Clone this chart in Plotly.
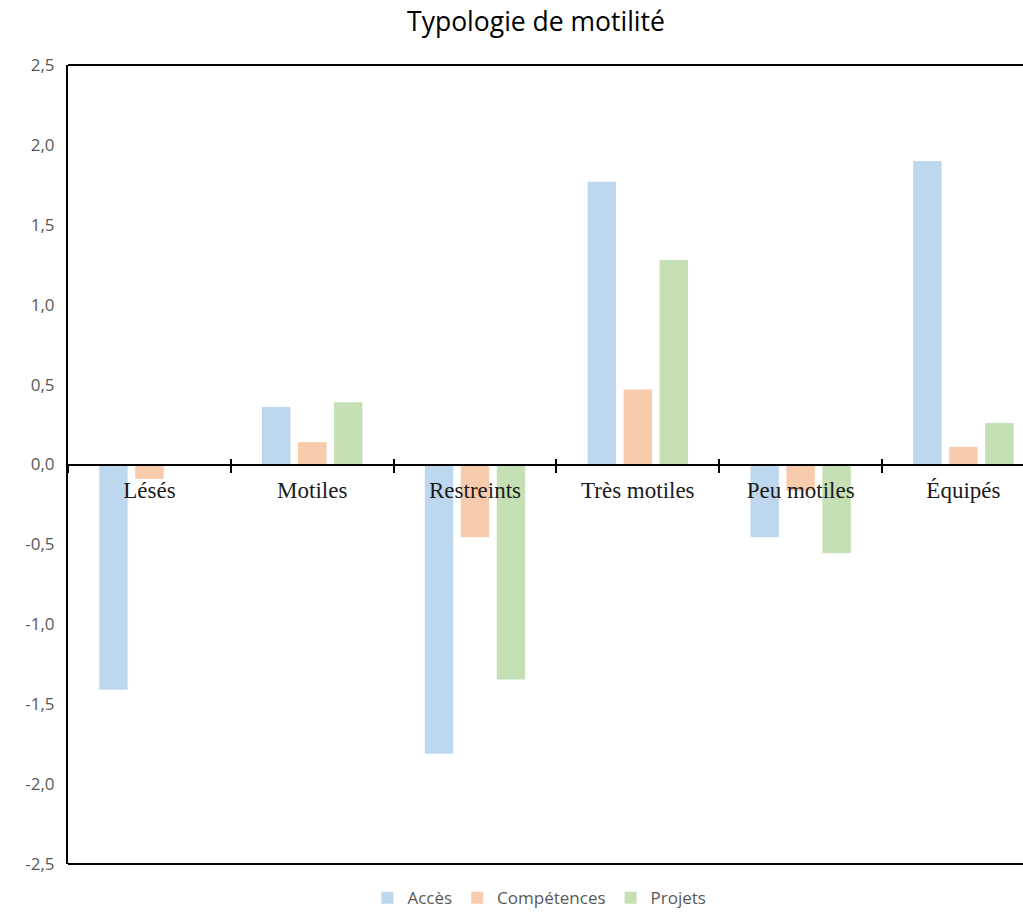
import plotly.graph_objects as go

categories = ["Lésés", "Motiles", "Restreints", "Très motiles", "Peu motiles", "Équipés"]
acces = [-1.41, 0.36, -1.81, 1.77, -0.455, 1.90]
competences = [-0.09, 0.14, -0.455, 0.47, -0.165, 0.11]
projets = [0.0, 0.39, -1.345, 1.28, -0.555, 0.26]
series_names = ["Accès", "Compétences", "Projets"]
colors = ["#BDD7EE", "#F8CBAD", "#C5E0B4"]
y_ticks = [-2.5, -2.0, -1.5, -1.0, -0.5, 0.0, 0.5, 1.0, 1.5, 2.0, 2.5]
y_tick_labels = [f"{v:.1f}".replace(".", ",") for v in y_ticks]

fig = go.Figure()
for name, vals, col in zip(series_names, [acces, competences, projets], colors):
    fig.add_trace(go.Bar(x=categories, y=vals, name=name, marker=dict(color=col, line=dict(width=0))))

# invisible trace to carry the inside-tick overlay axis
fig.add_trace(go.Scatter(x=categories, y=[0]*6, xaxis="x2", mode="markers",
                         marker=dict(opacity=0), showlegend=False, hoverinfo="skip"))

fig.update_layout(
    width=1023, height=917,
    margin=dict(l=68, r=0, t=65, b=53, autoexpand=False),
    paper_bgcolor="white", plot_bgcolor="white",
    barmode="group", bargap=0.337, bargroupgap=0.21,
    title=dict(text="Typologie de motilité", x=536/1023, xanchor="center", y=1-22/917, yanchor="middle",
               font=dict(family="Open Sans", size=26.5, color="black")),
    xaxis=dict(type="category", range=[-0.5, 5.366], anchor="free", position=0.5,
               showline=True, linecolor="black", linewidth=2,
               tickson="boundaries", ticks="outside", ticklen=7, tickwidth=2, tickcolor="black",
               tickfont=dict(family="Liberation Serif", size=23, color="#1a1a1a"),
               showgrid=False, zeroline=False, ticklabelstandoff=5),
    xaxis2=dict(type="category", overlaying="x", matches="x", anchor="free", position=0.5,
                showline=False, tickson="boundaries", ticks="inside", ticklen=6, tickwidth=2,
                tickcolor="black", showticklabels=False, showgrid=False, zeroline=False),
    yaxis=dict(range=[-2.5, 2.5], tickvals=y_ticks, ticktext=y_tick_labels,
               showline=True, linecolor="black", linewidth=2, showgrid=False, zeroline=False,
               ticks="", ticklabelstandoff=8,
               tickfont=dict(family="Open Sans", size=17, color="#595959")),
    legend=dict(orientation="h", x=505/1023, xanchor="center", y=-52/797, yanchor="bottom",
                font=dict(family="Open Sans", size=17, color="#595959"), itemwidth=30,
                traceorder="normal"),
    shapes=[
        dict(type="line", xref="paper", yref="paper", x0=0, x1=1, y0=1, y1=1,
             line=dict(color="black", width=2)),
        dict(type="line", xref="paper", yref="paper", x0=0, x1=1, y0=0, y1=0,
             line=dict(color="black", width=2)),
    ],
)

fig.write_html("out.html", config={"displayModeBar": False},
               post_script="document.body.style.margin='0';document.body.style.overflow='hidden';")
